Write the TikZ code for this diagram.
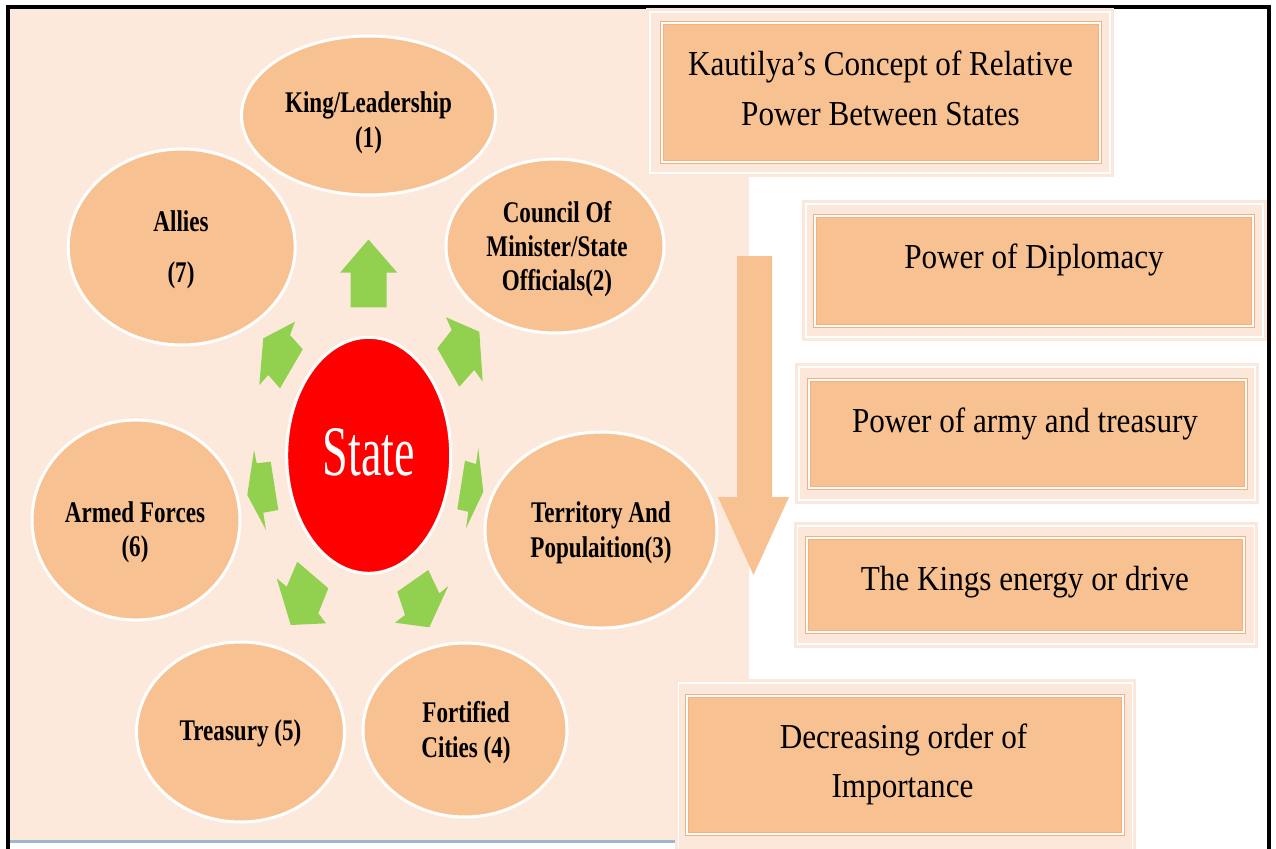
\documentclass[tikz,border=0pt]{standalone}
\usepackage{fontspec}
\setmainfont{Liberation Serif}
\newfontfamily\labelfont{Liberation Serif}[FakeStretch=0.77]
\newfontfamily\boxfont{Liberation Serif}[FakeStretch=0.89]
\newfontfamily\statefont{Liberation Serif}[FakeStretch=0.65]
\usetikzlibrary{shapes.geometric}

\definecolor{bgpeach}{HTML}{FCE9DB}
\definecolor{glowpeach}{HTML}{FCE8DA}
\definecolor{satfill}{HTML}{F8C191}
\definecolor{boxedge}{HTML}{F4B07E}
\definecolor{arrowgreen}{HTML}{92D050}
\definecolor{staterred}{HTML}{FF0000}
\definecolor{baseblue}{HTML}{9FB5D0}

\tikzset{
  sat/.style={ellipse, fill=satfill, draw=white, line width=3pt, inner sep=0pt},
  core/.style={ellipse, fill=staterred, draw=white, line width=3pt, inner sep=0pt},
  lbl/.style={anchor=base, inner sep=0pt, font={\labelfont\bfseries\fontsize{30pt}{30pt}\selectfont}},
  boxtxt/.style={anchor=base, inner sep=0pt, font={\boxfont\fontsize{35pt}{35pt}\selectfont}},
  glowbox/.style={rectangle, fill=glowpeach, draw=glowpeach, line width=3pt,
    double=white, double distance=1.2pt, inner sep=0pt},
  corebox/.style={rectangle, fill=satfill, draw=boxedge, line width=1.6pt,
    double=white, double distance=1.3pt, inner sep=0pt},
  spoke/.style={fill=arrowgreen, draw=none}
}

\begin{document}
\begin{tikzpicture}[x=1pt, y=-1pt]
\useasboundingbox (0,0) rectangle (1276,848);
\clip (0,0) rectangle (1276,848);
\fill[white] (0,0) rectangle (1276,848);

% left panel and frame
\fill[bgpeach] (10,9) rectangle (749,840);
\fill[baseblue] (10,839.5) rectangle (680,843);
\fill[baseblue!40] (680,840) rectangle (749,843);
\draw[black, line width=3.6pt] (8,860) -- (8,7) -- (1269,7) -- (1269,860);

% framed text boxes
\node[glowbox, minimum width=460pt, minimum height=161pt] (titleglow) at (880,92.5) {};
\node[corebox, minimum width=438pt, minimum height=139pt] (title) at (881,92.5) {};
\node[glowbox, minimum width=457pt, minimum height=133pt] (diplglow) at (1034.5,270.5) {};
\node[corebox, minimum width=438pt, minimum height=110pt] (dipl) at (1034,271) {};
\node[glowbox, minimum width=456pt, minimum height=133pt] (armyglow) at (1027,433.5) {};
\node[corebox, minimum width=437pt, minimum height=108pt] (army) at (1027.5,434) {};
\node[glowbox, minimum width=457pt, minimum height=118pt] (driveglow) at (1026,585) {};
\node[corebox, minimum width=437pt, minimum height=94pt] (drive) at (1025.5,585) {};
\node[glowbox, minimum width=454pt, minimum height=177pt] (orderglow) at (905.5,771.5) {};
\node[corebox, minimum width=436pt, minimum height=138pt] (order) at (905,765) {};

% descending arrow
\fill[satfill] (737,256) -- (772,256) -- (772,497) -- (789,497) -- (753.5,575)
  -- (718,497) -- (737,497) -- cycle;

% box texts
\node[boxtxt] (title-a) at (880.5,76) {Kautilya’s Concept of Relative};
\node[boxtxt] (title-b) at (880.5,125) {Power Between States};
\node[boxtxt] (dipl-t) at (1034,268) {Power of Diplomacy};
\node[boxtxt] (army-t) at (1025,432) {Power of army and treasury};
\node[boxtxt] (drive-t) at (1025,590) {The Kings energy or drive};
\node[boxtxt] (order-a) at (903.5,748) {Decreasing order of};
\node[boxtxt] (order-b) at (902.5,797) {Importance};

% elements of the state
\node[sat, minimum width=254pt, minimum height=159pt] (king) at (368.5,115.5) {};
\node[sat, minimum width=218pt, minimum height=174pt] (council) at (555,246) {};
\node[sat, minimum width=227pt, minimum height=196pt] (allies) at (181.7,247) {};
\node[sat, minimum width=208pt, minimum height=200pt] (armed) at (136,520) {};
\node[sat, minimum width=232pt, minimum height=196pt] (territory) at (601,530) {};
\node[sat, minimum width=208pt, minimum height=180pt] (treasury) at (240.5,732) {};
\node[sat, minimum width=204pt, minimum height=174pt] (fortified) at (465,730) {};
\node[core, minimum width=164pt, minimum height=236pt] (state) at (368.7,455.3) {};

\node[lbl] (king-a) at (368.5,113) {King/Leadership};
\node[lbl] (king-b) at (368.5,147) {(1)};
\node[lbl] (council-a) at (557,222) {Council Of};
\node[lbl] (council-b) at (557,256) {Minister/State};
\node[lbl] (council-c) at (557,290) {Officials(2)};
\node[lbl] (allies-a) at (181,231) {Allies};
\node[lbl] (allies-b) at (181,282) {(7)};
\node[lbl] (armed-a) at (135,522) {Armed Forces};
\node[lbl] (armed-b) at (135,556) {(6)};
\node[lbl] (territory-a) at (601,522) {Territory And};
\node[lbl] (territory-b) at (601,557) {Populaition(3)};
\node[lbl] (treasury-a) at (240.5,740) {Treasury (5)};
\node[lbl] (fortified-a) at (466,722) {Fortified};
\node[lbl] (fortified-b) at (466,757) {Cities (4)};
\node[anchor=base, inner sep=0pt, text=white,
  font={\statefont\fontsize{71pt}{71pt}\selectfont}] (state-t) at (369,475) {State};

% outward block arrows around the state
\fill[spoke] (368.5,239.5) -- (397.3,272.7) -- (386.7,272.7) -- (386.7,307.3)
  -- (350.7,307.3) -- (350.7,272.7) -- (340,272.7) -- cycle;
\fill[spoke] (479.3,331.7) -- (482.7,381.7) -- (474.3,370) -- (459.3,386.7)
  -- (437.3,348.3) -- (451.7,330) -- (446,317.3) -- cycle;
\fill[spoke] (483.3,491.7) -- (466,528.3) -- (468.3,511.7) -- (457.3,509.3)
  -- (465,460.7) -- (476,464) -- (478.3,448.3) -- cycle;
\fill[spoke] (429.3,627.3) -- (395,622.7) -- (405,615) -- (397.3,591.7)
  -- (428.3,570) -- (439.3,593.3) -- (448.3,586) -- cycle;
\fill[spoke] (290.7,625) -- (276.7,578.3) -- (286.7,586.7) -- (297.3,561.7)
  -- (328.3,588.3) -- (318.3,613.3) -- (326,623.3) -- cycle;
\fill[spoke] (247.3,495) -- (254,450) -- (256.7,463.3) -- (270.7,461.7)
  -- (278.3,510) -- (263.3,512.7) -- (266,530) -- cycle;
\fill[spoke] (263.3,338.3) -- (295,321.7) -- (290,335) -- (302.7,349.3)
  -- (280,388.3) -- (268.3,375) -- (259.3,385) -- cycle;
\end{tikzpicture}
\end{document}
